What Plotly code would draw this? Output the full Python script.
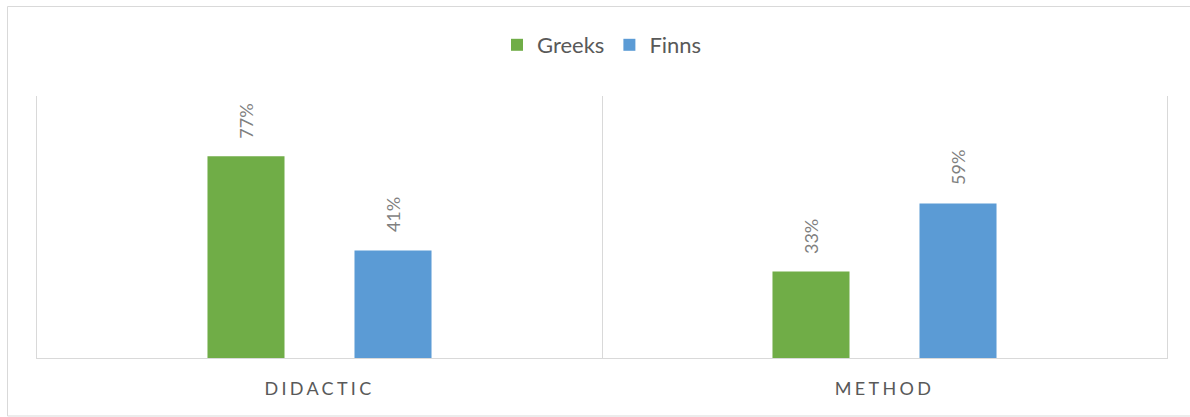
import plotly.graph_objects as go

categories = ["DIDACTIC", "METHOD"]
greeks = [0.77, 0.33]
finns = [0.41, 0.59]
series_names = ["Greeks", "Finns"]
colors = ["#70AD47", "#5B9BD5"]

W, H = 1190, 417
L, R, T, B = 37, 23, 96, 59
plot_w = W - L - R
plot_h = H - T - B

fig = go.Figure()
for name, vals, col in zip(series_names, [greeks, finns], colors):
    fig.add_trace(go.Bar(x=categories, y=vals, name=name, marker_color=col,
                         marker_line_width=0))

# data labels (rotated) above the bars
cat_px = plot_w / len(categories)
bargap = 0.4796
slot = (1 - bargap) * cat_px / 2
for i, vals in enumerate([greeks, finns]):
    shift = (i - 0.5) * slot
    for c, v in zip(categories, vals):
        fig.add_annotation(x=c, y=v, text=f"{round(v*100)}%", textangle=-90,
                           showarrow=False, xshift=shift, yshift=16,
                           yanchor="bottom", xanchor="center",
                           font=dict(family="Lato, Calibri, sans-serif", size=18, color="#7F7F7F"))

# outer chart border
fig.add_shape(type="rect", xref="paper", yref="paper",
              x0=(7.5 - L) / plot_w, x1=(1200 - L) / plot_w,
              y0=(H - T - B - (416 - T)) / plot_h, y1=(plot_h + T - 6.5) / plot_h,
              line=dict(color="#D9D9D9", width=1), fillcolor="rgba(0,0,0,0)", layer="below")

fig.update_layout(
    width=W, height=H,
    margin=dict(l=L, r=R, t=T, b=B, pad=0),
    paper_bgcolor="white", plot_bgcolor="white",
    barmode="group", bargap=bargap, bargroupgap=0.476,
    font=dict(family="Lato, Calibri, sans-serif", color="#595959"),
    legend=dict(orientation="h", x=0.5, xanchor="center",
                y=(plot_h - (45 - T)) / plot_h, yanchor="middle",
                font=dict(size=22, color="#595959"), bgcolor="rgba(0,0,0,0)"),
    showlegend=True,
)
fig.update_xaxes(type="category", tickson="boundaries", showgrid=True,
                 gridcolor="#D9D9D9", gridwidth=1, showline=True,
                 linecolor="#D9D9D9", linewidth=1, ticks="", ticklabelstandoff=14,
                 tickfont=dict(size=18, color="#595959", family="Lato, Calibri, sans-serif"),
                 zeroline=False)
fig.update_yaxes(range=[0, 1.0], showticklabels=False, ticks="", showgrid=False,
                 zeroline=False, showline=True, mirror=True,
                 linecolor="#D9D9D9", linewidth=1)

post = ("var s=document.createElement('style');"
        "s.innerHTML='.xtick text{letter-spacing:3.3px}';"
        "document.head.appendChild(s);")
fig.write_html("out.html", post_script=post)
